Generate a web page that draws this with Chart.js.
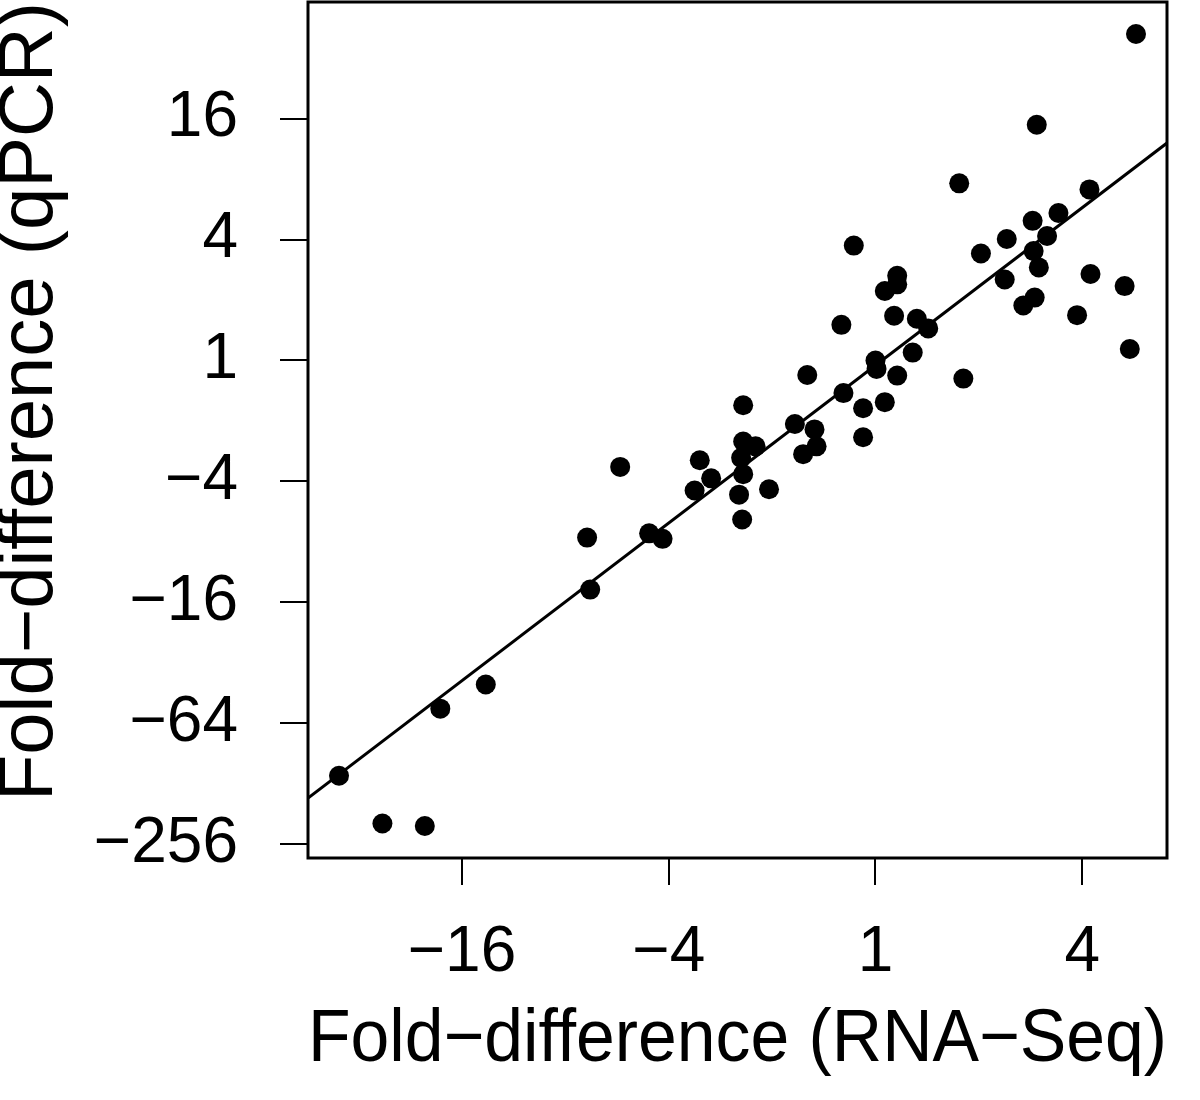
<!DOCTYPE html>
<html><head><meta charset="utf-8">
<script src="https://cdn.jsdelivr.net/npm/chart.js@4/dist/chart.umd.min.js"></script>
<style>html,body{margin:0;padding:0;background:#fff;} #wrap{width:1200px;height:1100px;}</style>
</head><body><div id="wrap"><canvas id="c" width="1200" height="1100"></canvas></div>
<script>
// log2 fold-difference values
const rnaSeqLog2 = [2.52,1.56,0.81,2.07,1.77,1.52,-0.21,1.66,1.27,1.02,1.53,1.58,0.21,0.21,0.09,1.25,2.08,2.41,1.54,1.43,1.95,0.18,-0.33,0.40,0.51,2.46,0.36,0.00,0.01,-0.66,0.85,0.21,-0.31,0.09,-0.12,-0.78,-0.59,-0.12,-0.57,-0.70,-1.28,-1.28,-1.16,-1.30,-1.70,-1.28,-1.59,-1.03,-1.75,-1.32,-1.29,-2.47,-2.79,-2.19,-2.06,-2.76,-3.77,-4.21,-5.19,-4.77,-4.36];
const qpcrLog2 = [5.40,3.90,2.93,2.83,2.44,2.31,1.90,2.06,2.01,1.77,1.81,1.54,1.40,1.26,1.15,1.34,1.43,1.23,1.04,0.91,0.75,0.74,0.59,0.69,0.53,0.19,0.13,0.00,-0.14,-0.24,-0.30,-0.25,-0.54,-0.69,-0.79,-1.05,-1.14,-1.27,-1.42,-1.55,-0.74,-1.34,-1.42,-1.61,-1.65,-1.88,-1.95,-2.13,-2.15,-2.22,-2.63,-1.76,-2.93,-2.86,-2.95,-3.79,-5.36,-5.76,-6.87,-7.66,-7.70];
const xTickValues = [-4, -2, 0, 2];
const xTickLabels = ['−16', '−4', '1', '4'];
const yTickValues = [-8, -6, -4, -2, 0, 2, 4];
const yTickLabels = ['−256', '−64', '−16', '−4', '1', '4', '16'];
const fitSlope = 1.304;
const fitIntercept = -0.08;
const xRange = [-5.49, 2.82];
const yRange = [-8.23, 5.93];
const xTitle = 'Fold−difference (RNA−Seq)';
const yTitle = 'Fold−difference (qPCR)';

const FONT = "'Liberation Sans', Arial, Helvetica, sans-serif";

const points = rnaSeqLog2.map((x, i) => ({x: x, y: qpcrLog2[i]}));
const fitLine = xRange.map(x => ({x: x, y: fitIntercept + fitSlope * x}));

const boxPlugin = {
  id: 'box',
  afterDatasetsDraw(chart) {
    const {ctx, chartArea: a} = chart;
    ctx.save();
    ctx.strokeStyle = '#000';
    ctx.lineWidth = 3;
    ctx.strokeRect(a.left, a.top, a.right - a.left, a.bottom - a.top);
    ctx.restore();
  }
};

new Chart(document.getElementById('c'), {
  type: 'scatter',
  data: {
    datasets: [
      {
        type: 'scatter',
        data: points,
        backgroundColor: '#000',
        borderColor: '#000',
        borderWidth: 0,
        pointRadius: 10,
        pointHoverRadius: 10
      },
      {
        type: 'line',
        data: fitLine,
        borderColor: '#000',
        borderWidth: 3,
        pointRadius: 0,
        fill: false,
        tension: 0
      }
    ]
  },
  options: {
    responsive: false,
    animation: false,
    devicePixelRatio: 1,
    layout: {autoPadding: false, padding: {top: 2, right: 33, left: 0, bottom: 0}},
    plugins: {legend: {display: false}, tooltip: {enabled: false}},
    scales: {
      x: {
        type: 'linear',
        min: xRange[0], max: xRange[1],
        afterFit(s) { s.height = 242; s.paddingLeft = 0; s.paddingRight = 0; },
        afterBuildTicks(s) { s.ticks = xTickValues.map(v => ({value: v})); },
        grid: {display: true, drawOnChartArea: false, drawTicks: true, tickLength: 27, color: '#000', lineWidth: 2},
        border: {display: false},
        ticks: {
          autoSkip: false, maxRotation: 0, padding: 30, color: '#000',
          font: {family: FONT, size: 64},
          callback(v, i) { return xTickLabels[i]; }
        },
        title: {display: true, text: xTitle, color: '#000', font: {family: FONT, size: 74, lineHeight: 0.8}, padding: {top: 0, bottom: 30}}
      },
      y: {
        type: 'linear',
        min: yRange[0], max: yRange[1],
        afterFit(s) { s.width = 308; s.paddingTop = 0; s.paddingBottom = 0; },
        afterBuildTicks(s) { s.ticks = yTickValues.map(v => ({value: v})); },
        grid: {display: true, drawOnChartArea: false, drawTicks: true, tickLength: 28, color: '#000', lineWidth: 2},
        border: {display: false},
        ticks: {
          autoSkip: false, padding: 42, color: '#000',
          font: {family: FONT, size: 64},
          callback(v, i) { return yTickLabels[i]; }
        },
        title: {display: true, text: yTitle, align: 'end', color: '#000', font: {family: FONT, size: 76, lineHeight: 0.8}, padding: {top: 1, bottom: 0}}
      }
    }
  },
  plugins: [boxPlugin]
});
</script>
</body></html>
